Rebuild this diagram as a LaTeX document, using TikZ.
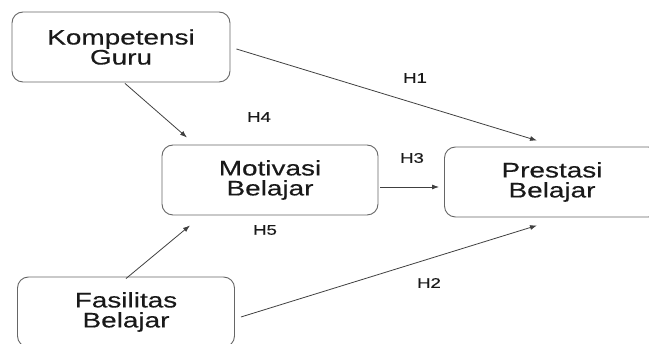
\documentclass[tikz,border=0pt]{standalone}
\usepackage{fontspec}
\setmainfont[FakeStretch=1.33,FakeBold=0.4]{Liberation Sans}
\usetikzlibrary{arrows.meta}
\tikzset{
  box/.style={draw=black!60, line width=0.9pt, rounded corners=11pt, minimum width=216pt, minimum height=70pt, inner sep=0pt, align=center, text=black!90, font=\fontsize{21}{20}\selectfont},
  arr/.style={draw=black!75, line width=0.8pt, -{Latex[length=7pt,width=5pt]}},
  hlab/.style={text=black!90, font=\fontsize{14}{14}\selectfont, inner sep=0pt}
}
\begin{document}
\begin{tikzpicture}[x=1pt,y=-1pt]
\useasboundingbox (0,0) rectangle (649,344);
\node[box, minimum width=218pt] (K) at (121,47) {Kompetensi\\Guru};
\node[box] (M) at (270,180) {Motivasi\\Belajar};
\node[box, minimum width=215pt] (P) at (552,182) {Prestasi\\Belajar};
\node[box, minimum width=217pt] (F) at (126,312) {Fasilitas\\Belajar};
\draw[arr] ([xshift=4pt,yshift=-1pt]K.south) -- ([xshift=-83pt,yshift=7pt]M.north);
\draw[arr] ([xshift=6pt,yshift=-2pt]K.east) -- ([xshift=-15pt,yshift=6pt]P.north);
\draw[arr] ([xshift=2pt,yshift=-7pt]M.east) -- ([xshift=-5pt,yshift=-5pt]P.west);
\draw[arr] ([yshift=-2pt]F.north) -- ([xshift=-80pt,yshift=-10pt]M.south);
\draw[arr] ([xshift=6pt,yshift=-5pt]F.east) -- ([xshift=-15pt,yshift=-8pt]P.south);
\node[hlab] (h1) at (415,78) {H1};
\node[hlab] (h4) at (259,117) {H4};
\node[hlab] (h3) at (412,158) {H3};
\node[hlab] (h5) at (265,230) {H5};
\node[hlab] (h2) at (429,283) {H2};
\end{tikzpicture}
\end{document}
